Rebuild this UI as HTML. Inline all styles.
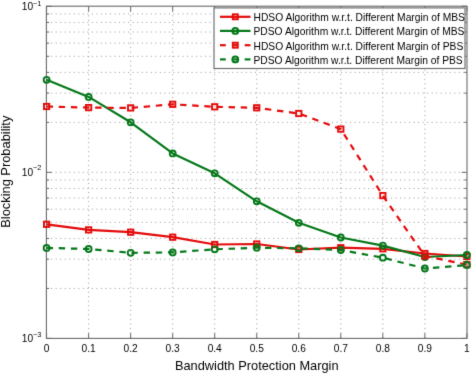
<!DOCTYPE html><html><head><meta charset="utf-8"><style>html,body{margin:0;padding:0;background:#fff;width:472px;height:374px;overflow:hidden}svg{display:block}text{font-family:"Liberation Sans",sans-serif;fill:#000}</style></head><body><svg width="472" height="374" viewBox="0 0 472 374"><defs><filter id="bl" x="0" y="0" width="472" height="374" filterUnits="userSpaceOnUse" color-interpolation-filters="sRGB"><feConvolveMatrix order="3" kernelMatrix="0.01 0.08 0.01 0.08 0.64 0.08 0.01 0.08 0.01" edgeMode="duplicate"/></filter></defs><g filter="url(#bl)"><rect width="472" height="374" fill="#fff"/><path d="M88.63 6.3V338.4M130.66 6.3V338.4M172.69 6.3V338.4M214.72 6.3V338.4M256.75 6.3V338.4M298.78 6.3V338.4M340.81 6.3V338.4M382.84 6.3V338.4M424.87 6.3V338.4M46.6 288.41H466.9M46.6 259.17H466.9M46.6 238.43H466.9M46.6 222.34H466.9M46.6 209.19H466.9M46.6 198.07H466.9M46.6 188.44H466.9M46.6 179.95H466.9M46.6 172.35H466.9M46.6 122.36H466.9M46.6 93.12H466.9M46.6 72.38H466.9M46.6 56.29H466.9M46.6 43.14H466.9M46.6 32.02H466.9M46.6 22.39H466.9M46.6 13.90H466.9" stroke="#9a9a9a" stroke-width="1" stroke-dasharray="1 3.53" fill="none"/><path d="M46.60 338.4v-5.2M46.60 6.3v5.2M88.63 338.4v-5.2M88.63 6.3v5.2M130.66 338.4v-5.2M130.66 6.3v5.2M172.69 338.4v-5.2M172.69 6.3v5.2M214.72 338.4v-5.2M214.72 6.3v5.2M256.75 338.4v-5.2M256.75 6.3v5.2M298.78 338.4v-5.2M298.78 6.3v5.2M340.81 338.4v-5.2M340.81 6.3v5.2M382.84 338.4v-5.2M382.84 6.3v5.2M424.87 338.4v-5.2M424.87 6.3v5.2M466.90 338.4v-5.2M466.90 6.3v5.2M46.6 338.40h5.2M466.9 338.40h-5.2M46.6 288.41h2.6M466.9 288.41h-2.6M46.6 259.17h2.6M466.9 259.17h-2.6M46.6 238.43h2.6M466.9 238.43h-2.6M46.6 222.34h2.6M466.9 222.34h-2.6M46.6 209.19h2.6M466.9 209.19h-2.6M46.6 198.07h2.6M466.9 198.07h-2.6M46.6 188.44h2.6M466.9 188.44h-2.6M46.6 179.95h2.6M466.9 179.95h-2.6M46.6 172.35h5.2M466.9 172.35h-5.2M46.6 122.36h2.6M466.9 122.36h-2.6M46.6 93.12h2.6M466.9 93.12h-2.6M46.6 72.38h2.6M466.9 72.38h-2.6M46.6 56.29h2.6M466.9 56.29h-2.6M46.6 43.14h2.6M466.9 43.14h-2.6M46.6 32.02h2.6M466.9 32.02h-2.6M46.6 22.39h2.6M466.9 22.39h-2.6M46.6 13.90h2.6M466.9 13.90h-2.6M46.6 6.30h5.2M466.9 6.30h-5.2" stroke="#6a6a6a" stroke-width="1" fill="none"/><rect x="46.4" y="6.2" width="420.6" height="332.2" fill="none" stroke="#6a6a6a" stroke-width="1.1"/><polyline points="46.60,224.30 88.63,229.90 130.66,232.20 172.69,237.20 214.72,244.50 256.75,244.00 298.78,249.50 340.81,247.70 382.84,248.80 424.87,253.50 466.90,256.50" fill="none" stroke="#e50a0a" stroke-width="2.2" stroke-linejoin="round"/><rect x="43.95" y="221.65" width="5.3" height="5.3" fill="none" stroke="#e50a0a" stroke-width="1.9"/><rect x="85.98" y="227.25" width="5.3" height="5.3" fill="none" stroke="#e50a0a" stroke-width="1.9"/><rect x="128.01" y="229.55" width="5.3" height="5.3" fill="none" stroke="#e50a0a" stroke-width="1.9"/><rect x="170.04" y="234.55" width="5.3" height="5.3" fill="none" stroke="#e50a0a" stroke-width="1.9"/><rect x="212.07" y="241.85" width="5.3" height="5.3" fill="none" stroke="#e50a0a" stroke-width="1.9"/><rect x="254.10" y="241.35" width="5.3" height="5.3" fill="none" stroke="#e50a0a" stroke-width="1.9"/><rect x="296.13" y="246.85" width="5.3" height="5.3" fill="none" stroke="#e50a0a" stroke-width="1.9"/><rect x="338.16" y="245.05" width="5.3" height="5.3" fill="none" stroke="#e50a0a" stroke-width="1.9"/><rect x="380.19" y="246.15" width="5.3" height="5.3" fill="none" stroke="#e50a0a" stroke-width="1.9"/><rect x="422.22" y="250.85" width="5.3" height="5.3" fill="none" stroke="#e50a0a" stroke-width="1.9"/><rect x="464.25" y="253.85" width="5.3" height="5.3" fill="none" stroke="#e50a0a" stroke-width="1.9"/><polyline points="46.60,79.80 88.63,96.90 130.66,122.30 172.69,153.40 214.72,173.30 256.75,201.30 298.78,222.80 340.81,237.50 382.84,245.60 424.87,257.00 466.90,255.00" fill="none" stroke="#05781a" stroke-width="2.2" stroke-linejoin="round"/><circle cx="46.60" cy="79.80" r="2.95" fill="none" stroke="#05781a" stroke-width="1.9"/><circle cx="88.63" cy="96.90" r="2.95" fill="none" stroke="#05781a" stroke-width="1.9"/><circle cx="130.66" cy="122.30" r="2.95" fill="none" stroke="#05781a" stroke-width="1.9"/><circle cx="172.69" cy="153.40" r="2.95" fill="none" stroke="#05781a" stroke-width="1.9"/><circle cx="214.72" cy="173.30" r="2.95" fill="none" stroke="#05781a" stroke-width="1.9"/><circle cx="256.75" cy="201.30" r="2.95" fill="none" stroke="#05781a" stroke-width="1.9"/><circle cx="298.78" cy="222.80" r="2.95" fill="none" stroke="#05781a" stroke-width="1.9"/><circle cx="340.81" cy="237.50" r="2.95" fill="none" stroke="#05781a" stroke-width="1.9"/><circle cx="382.84" cy="245.60" r="2.95" fill="none" stroke="#05781a" stroke-width="1.9"/><circle cx="424.87" cy="257.00" r="2.95" fill="none" stroke="#05781a" stroke-width="1.9"/><circle cx="466.90" cy="255.00" r="2.95" fill="none" stroke="#05781a" stroke-width="1.9"/><polyline points="46.60,106.50 88.63,107.60 130.66,107.90 172.69,104.30 214.72,106.80 256.75,107.80 298.78,113.50 340.81,129.10 382.84,195.60 424.87,256.00 466.90,264.60" fill="none" stroke="#e50a0a" stroke-width="2.2" stroke-dasharray="6.4 5.75"/><rect x="43.95" y="103.85" width="5.3" height="5.3" fill="none" stroke="#e50a0a" stroke-width="1.9"/><rect x="85.98" y="104.95" width="5.3" height="5.3" fill="none" stroke="#e50a0a" stroke-width="1.9"/><rect x="128.01" y="105.25" width="5.3" height="5.3" fill="none" stroke="#e50a0a" stroke-width="1.9"/><rect x="170.04" y="101.65" width="5.3" height="5.3" fill="none" stroke="#e50a0a" stroke-width="1.9"/><rect x="212.07" y="104.15" width="5.3" height="5.3" fill="none" stroke="#e50a0a" stroke-width="1.9"/><rect x="254.10" y="105.15" width="5.3" height="5.3" fill="none" stroke="#e50a0a" stroke-width="1.9"/><rect x="296.13" y="110.85" width="5.3" height="5.3" fill="none" stroke="#e50a0a" stroke-width="1.9"/><rect x="338.16" y="126.45" width="5.3" height="5.3" fill="none" stroke="#e50a0a" stroke-width="1.9"/><rect x="380.19" y="192.95" width="5.3" height="5.3" fill="none" stroke="#e50a0a" stroke-width="1.9"/><rect x="422.22" y="253.35" width="5.3" height="5.3" fill="none" stroke="#e50a0a" stroke-width="1.9"/><rect x="464.25" y="261.95" width="5.3" height="5.3" fill="none" stroke="#e50a0a" stroke-width="1.9"/><polyline points="46.60,247.90 88.63,249.00 130.66,252.80 172.69,252.40 214.72,249.30 256.75,247.70 298.78,248.30 340.81,250.00 382.84,257.70 424.87,268.50 466.90,265.00" fill="none" stroke="#05781a" stroke-width="2.2" stroke-dasharray="6.4 5.75"/><circle cx="46.60" cy="247.90" r="2.95" fill="none" stroke="#05781a" stroke-width="1.9"/><circle cx="88.63" cy="249.00" r="2.95" fill="none" stroke="#05781a" stroke-width="1.9"/><circle cx="130.66" cy="252.80" r="2.95" fill="none" stroke="#05781a" stroke-width="1.9"/><circle cx="172.69" cy="252.40" r="2.95" fill="none" stroke="#05781a" stroke-width="1.9"/><circle cx="214.72" cy="249.30" r="2.95" fill="none" stroke="#05781a" stroke-width="1.9"/><circle cx="256.75" cy="247.70" r="2.95" fill="none" stroke="#05781a" stroke-width="1.9"/><circle cx="298.78" cy="248.30" r="2.95" fill="none" stroke="#05781a" stroke-width="1.9"/><circle cx="340.81" cy="250.00" r="2.95" fill="none" stroke="#05781a" stroke-width="1.9"/><circle cx="382.84" cy="257.70" r="2.95" fill="none" stroke="#05781a" stroke-width="1.9"/><circle cx="424.87" cy="268.50" r="2.95" fill="none" stroke="#05781a" stroke-width="1.9"/><circle cx="466.90" cy="265.00" r="2.95" fill="none" stroke="#05781a" stroke-width="1.9"/><rect x="214.0" y="7.9" width="251.0" height="60.6" fill="#fff" stroke="#6a6a6a" stroke-width="1.15"/><line x1="220.0" y1="16.8" x2="250.5" y2="16.8" stroke="#e50a0a" stroke-width="2.2"/><rect x="232.85" y="14.35" width="4.9" height="4.9" fill="none" stroke="#e50a0a" stroke-width="2.0"/><text x="253.5" y="21.10" font-size="10.27">HDSO Algorithm w.r.t. Different Margin of MBS</text><line x1="220.0" y1="30.9" x2="250.5" y2="30.9" stroke="#05781a" stroke-width="2.2"/><circle cx="235.3" cy="30.9" r="2.85" fill="none" stroke="#05781a" stroke-width="2.1"/><text x="253.5" y="35.20" font-size="10.27">PDSO Algorithm w.r.t. Different Margin of MBS</text><line x1="220.0" y1="45.2" x2="225.8" y2="45.2" stroke="#e50a0a" stroke-width="2.2"/><line x1="244.7" y1="45.2" x2="250.5" y2="45.2" stroke="#e50a0a" stroke-width="2.2"/><line x1="233.3" y1="45.2" x2="237.3" y2="45.2" stroke="#e50a0a" stroke-width="2.2"/><rect x="232.85" y="42.75" width="4.9" height="4.9" fill="none" stroke="#e50a0a" stroke-width="2.0"/><text x="253.5" y="49.50" font-size="10.27">HDSO Algorithm w.r.t. Different Margin of PBS</text><line x1="220.0" y1="59.4" x2="225.8" y2="59.4" stroke="#05781a" stroke-width="2.2"/><line x1="244.7" y1="59.4" x2="250.5" y2="59.4" stroke="#05781a" stroke-width="2.2"/><line x1="233.3" y1="59.4" x2="237.3" y2="59.4" stroke="#05781a" stroke-width="2.2"/><circle cx="235.3" cy="59.4" r="2.85" fill="none" stroke="#05781a" stroke-width="2.1"/><text x="253.5" y="63.70" font-size="10.27">PDSO Algorithm w.r.t. Different Margin of PBS</text><text x="46.60" y="351.8" font-size="10.2" text-anchor="middle">0</text><text x="88.63" y="351.8" font-size="10.2" text-anchor="middle">0.1</text><text x="130.66" y="351.8" font-size="10.2" text-anchor="middle">0.2</text><text x="172.69" y="351.8" font-size="10.2" text-anchor="middle">0.3</text><text x="214.72" y="351.8" font-size="10.2" text-anchor="middle">0.4</text><text x="256.75" y="351.8" font-size="10.2" text-anchor="middle">0.5</text><text x="298.78" y="351.8" font-size="10.2" text-anchor="middle">0.6</text><text x="340.81" y="351.8" font-size="10.2" text-anchor="middle">0.7</text><text x="382.84" y="351.8" font-size="10.2" text-anchor="middle">0.8</text><text x="424.87" y="351.8" font-size="10.2" text-anchor="middle">0.9</text><text x="466.90" y="351.8" font-size="10.2" text-anchor="middle">1</text><text x="33.1" y="9.90" font-size="10.2" text-anchor="end">10</text><text x="33.0" y="6.00" font-size="7.3">−1</text><text x="33.1" y="175.95" font-size="10.2" text-anchor="end">10</text><text x="33.0" y="170.45" font-size="7.3">−2</text><text x="33.1" y="342.00" font-size="10.2" text-anchor="end">10</text><text x="33.0" y="336.50" font-size="7.3">−3</text><text x="256.75" y="370.0" font-size="12.8" text-anchor="middle">Bandwidth Protection Margin</text><text transform="translate(10.2,171.7) rotate(-90)" font-size="12.85" text-anchor="middle">Blocking Probability</text></g></svg></body></html>
